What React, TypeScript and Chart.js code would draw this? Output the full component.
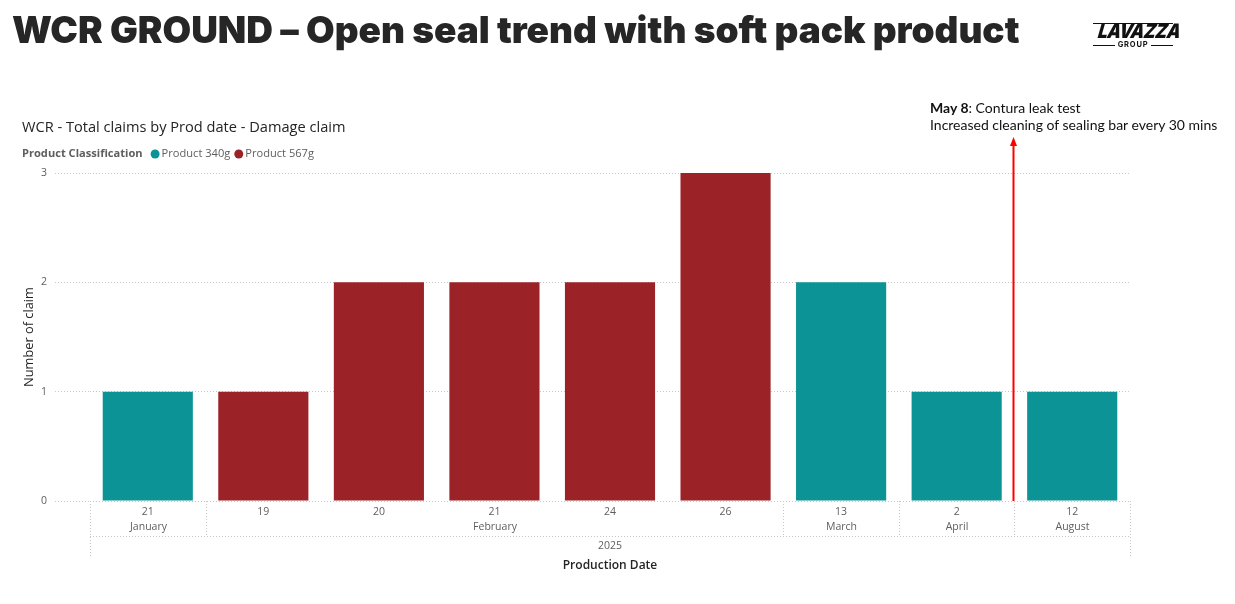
import React, { useEffect, useRef } from "react";
import { Chart, registerables } from "chart.js";

Chart.register(...registerables);

// ---- data ----
const dayLabels = ["21", "19", "20", "21", "24", "26", "13", "2", "12"];
const monthLabels = ["January", "February", "February", "February", "February", "February", "March", "April", "August"];
const yearLabel = "2025";
const seriesNames = ["Product 340g", "Product 567g"];
const product340g = [1, null, null, null, null, null, 2, 1, 1];
const product567g = [null, 1, 2, 2, 2, 3, null, null, null];
const yTickValues = [0, 1, 2, 3];
const annotationPosition = 7.5; // May 8: between April and August
const chartTitle = "WCR - Total claims by Prod date - Damage claim";
const legendTitle = "Product Classification";
const xAxisTitle = "Production Date";
const yAxisTitle = "Number of claim";
const pageTitle = "WCR GROUND \u2013 Open seal trend with soft pack product";

const TEAL = "#0B9396";
const RED = "#9B2227";
const GRID = "#C8C6C4";
const FONT = "'Open Sans', 'Noto Sans', sans-serif";

const hierarchyPlugin = {
  id: "hierarchy",
  afterDraw(chart: any) {
    const { ctx, chartArea } = chart;
    const x = chart.scales.x;
    ctx.save();
    // chart title
    ctx.fillStyle = "#252423";
    ctx.font = `14.6px ${FONT}`;
    ctx.textAlign = "left";
    ctx.textBaseline = "middle";
    ctx.fillText(chartTitle, 22, 128);
    // legend
    ctx.font = `bold 11.1px ${FONT}`;
    ctx.fillStyle = "#605E5C";
    ctx.fillText(legendTitle, 22, 154);
    let lx = 22 + ctx.measureText(legendTitle).width + 8;
    ctx.font = `11.1px ${FONT}`;
    const colors = [TEAL, RED];
    seriesNames.forEach((n, i) => {
      ctx.fillStyle = colors[i];
      ctx.beginPath();
      ctx.arc(lx + 4.5, 154, 4.5, 0, Math.PI * 2);
      ctx.fill();
      ctx.fillStyle = "#605E5C";
      ctx.fillText(n, lx + 11, 154);
      lx += 11 + ctx.measureText(n).width + 4;
    });

    // hierarchical axis
    const bottom = chartArea.bottom;
    const groups: { label: string; start: number; end: number }[] = [];
    monthLabels.forEach((m, i) => {
      const g = groups[groups.length - 1];
      if (g && g.label === m) g.end = i;
      else groups.push({ label: m, start: i, end: i });
    });
    ctx.strokeStyle = GRID;
    ctx.lineWidth = 1;
    ctx.setLineDash([1, 2]);
    const x0 = x.getPixelForValue(-0.5);
    const x1 = x.getPixelForValue(monthLabels.length - 0.5);
    const line = (ax: number, ay: number, bx: number, by: number) => {
      ctx.beginPath();
      ctx.moveTo(ax, ay);
      ctx.lineTo(bx, by);
      ctx.stroke();
    };
    line(x0, 536.5, x1, 536.5);
    groups.forEach((g, gi) => {
      const s = Math.round(x.getPixelForValue(g.start - 0.5)) + 0.5;
      const e = Math.round(x.getPixelForValue(g.end + 0.5)) + 0.5;
      line(s, bottom, s, gi === 0 ? 556 : 536);
      if (gi === groups.length - 1) line(e, bottom, e, 556);
      ctx.setLineDash([]);
      ctx.fillStyle = "#605E5C";
      ctx.font = `10.5px ${FONT}`;
      ctx.textAlign = "center";
      ctx.fillText(g.label, (s + e) / 2, 527);
      ctx.setLineDash([1, 2]);
    });
    ctx.setLineDash([]);
    ctx.fillStyle = "#605E5C";
    ctx.textAlign = "center";
    ctx.fillText(yearLabel, (x0 + x1) / 2, 546);

    // red annotation arrow
    const ax = Math.round(x.getPixelForValue(annotationPosition)) - 0.5;
    ctx.strokeStyle = "#FF0000";
    ctx.fillStyle = "#FF0000";
    ctx.lineWidth = 2;
    line(ax, bottom, ax, 144);
    ctx.beginPath();
    ctx.moveTo(ax, 137);
    ctx.lineTo(ax - 3.5, 146);
    ctx.lineTo(ax + 3.5, 146);
    ctx.closePath();
    ctx.fill();
    ctx.restore();
  },
};

function ChartCanvas() {
  const ref = useRef<HTMLCanvasElement>(null);
  useEffect(() => {
    if (!ref.current) return;
    const chart = new Chart(ref.current, {
      type: "bar",
      data: {
        labels: dayLabels,
        datasets: [
          { label: seriesNames[0], data: product340g, backgroundColor: TEAL, categoryPercentage: 1, barPercentage: 0.78 },
          { label: seriesNames[1], data: product567g, backgroundColor: RED, categoryPercentage: 1, barPercentage: 0.78 },
        ],
      },
      options: {
        animation: false,
        responsive: false,
        devicePixelRatio: 1,
        layout: { padding: { left: 19, right: 105, top: 173, bottom: 27 } },
        plugins: { legend: { display: false }, title: { display: false }, tooltip: { enabled: false } },
        scales: {
          x: {
            stacked: true,
            grid: { display: false, drawTicks: false },
            border: { display: false },
            ticks: { color: "#605E5C", font: { size: 10.5, family: FONT }, padding: 5, maxRotation: 0 },
            title: { display: true, text: xAxisTitle, color: "#252423", font: { size: 12, weight: "600", family: FONT }, padding: { top: 4, bottom: 4 } },
            afterFit: (s: any) => { s.height = 76; },
          },
          y: {
            stacked: true,
            min: 0,
            max: 3,
            afterBuildTicks: (s: any) => { s.ticks = yTickValues.map((v) => ({ value: v })); },
            grid: { color: GRID, tickLength: 35, tickColor: GRID, tickBorderDash: [1, 2], lineWidth: 1 },
            border: { display: false, dash: [1, 2] },
            ticks: { color: "#605E5C", font: { size: 10.5, family: FONT }, padding: 8 },
            title: { display: true, text: yAxisTitle, color: "#252423", font: { size: 12.8, family: FONT }, padding: { top: 3, bottom: 4 } },
            afterFit: (s: any) => { s.width = 71; },
          },
        },
      },
      plugins: [hierarchyPlugin],
    });
    return () => chart.destroy();
  }, []);
  return <canvas ref={ref} width={1235} height={604} style={{ position: "absolute", left: 0, top: 0, width: 1235, height: 604 }} />;
}

export default function App() {
  return (
    <div style={{ position: "absolute", left: 0, top: 0, width: 1235, height: 604, background: "#fff", overflow: "hidden" }}>
      <ChartCanvas />
      <div style={{ position: "absolute", left: 12, top: 11, fontFamily: "Inter, Lato, sans-serif", fontWeight: 900, fontSize: 37, lineHeight: "37px", color: "#262626", whiteSpace: "nowrap", letterSpacing: -0.04 }}>
        {pageTitle}
      </div>
      <div style={{ position: "absolute", left: 930, top: 99, fontFamily: "Lato, 'Open Sans', sans-serif", fontSize: 14, lineHeight: "17px", color: "#111", whiteSpace: "nowrap" }}>
        <div><b>May 8</b>: Contura leak test</div>
        <div>Increased cleaning of sealing bar every 30 mins</div>
      </div>
      <div style={{ position: "absolute", left: 1093, top: 23, width: 80, color: "#111" }}>
        <div style={{ borderTop: "1.5px solid #111", width: 80 }} />
        <div style={{ fontFamily: "Inter, sans-serif", fontWeight: 900, fontStyle: "italic", fontSize: 20, lineHeight: "18px", letterSpacing: -0.6, textAlign: "center", transform: "skewX(-8deg) scaleX(0.86)", marginTop: -2, whiteSpace: "nowrap" }}>LAVAZZA</div>
        <div style={{ display: "flex", alignItems: "center", gap: 3, fontFamily: "Inter, sans-serif", fontWeight: 700, fontSize: 7.5, lineHeight: "8px", marginTop: 1 }}>
          <div style={{ flex: 1, borderTop: "1.2px solid #111" }} />
          <span style={{ letterSpacing: 0.8 }}>GROUP</span>
          <div style={{ flex: 1, borderTop: "1.2px solid #111" }} />
        </div>
      </div>
    </div>
  );
}
